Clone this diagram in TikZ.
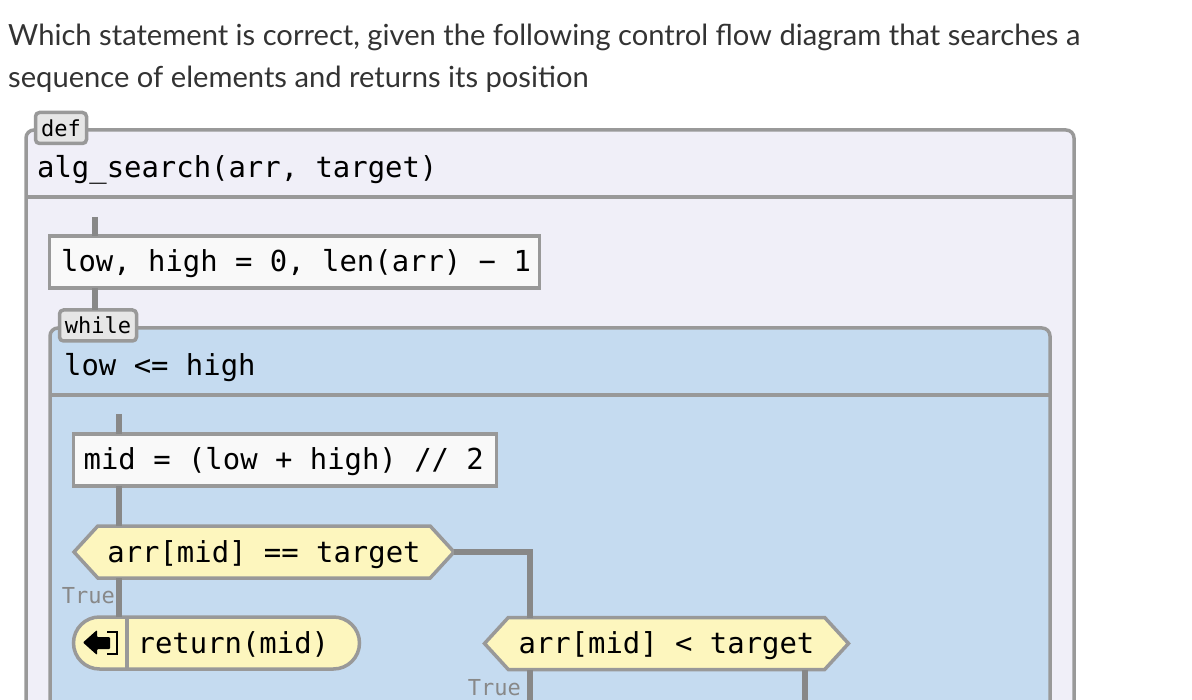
\documentclass[tikz,border=0pt]{standalone}
\usepackage{fontspec}
\setmainfont{Lato}
\setmonofont{DejaVu Sans Mono}
\usetikzlibrary{shapes.symbols}

\definecolor{defback}{HTML}{F0EFF8}
\definecolor{whileback}{HTML}{C5DBF0}
\definecolor{condback}{HTML}{FDF6BE}
\definecolor{tagback}{HTML}{E6E6E6}
\definecolor{boxback}{HTML}{F9F9F9}
\definecolor{frameline}{HTML}{999999}
\definecolor{flowline}{HTML}{888888}
\definecolor{labelgray}{HTML}{888888}
\definecolor{introtext}{HTML}{333333}

\tikzset{
  framepath/.style={draw=frameline, line width=3.5pt},
  flow/.style={draw=flowline, line width=5.5pt},
  code/.style={font=\ttfamily\fontsize{28.9}{30}\selectfont, text=black, inner sep=0pt},
  tag/.style={draw=frameline, line width=3.5pt, fill=tagback, rounded corners=4pt, inner sep=0pt, outer sep=0pt,
    font=\ttfamily\fontsize{22}{24}\selectfont, text=black},
  stmt/.style={draw=frameline, line width=3.5pt, fill=boxback, inner sep=0pt, outer sep=0pt, minimum height=52pt},
  cond/.style={code, signal, signal to=west and east, signal pointer angle=95,
    draw=frameline, line width=3.5pt, fill=condback, outer sep=0pt, minimum height=52pt,
    text height=24pt, text depth=4pt},
  branch/.style={font=\ttfamily\fontsize{22}{24}\selectfont, text=labelgray, inner sep=0pt},
}

\begin{document}
\begin{tikzpicture}[x=1pt, y=-1pt]
  \useasboundingbox (0,0) rectangle (1192,700);
  \clip (0,0) rectangle (1192,700);

  % Pregunta
  \node[anchor=west, inner sep=0pt, text=introtext, font=\fontsize{29.15}{30}\selectfont] (introa) at (8,37)
    {Which statement is correct, given the following control flow diagram that searches a};
  \node[anchor=west, inner sep=0pt, text=introtext, font=\fontsize{29.15}{30}\selectfont] (introb) at (8,79)
    {sequence of elements and returns its position};

  % Marcos
  \draw[framepath, fill=defback, rounded corners=8pt] (26,760) rectangle (1074,130);
  \draw[framepath] (26,197) -- (1074,197);
  \draw[framepath, fill=whileback, rounded corners=8pt] (50,760) rectangle (1050,328);
  \draw[framepath] (50,395) -- (1050,395);

  \node[tag, minimum width=51pt, minimum height=31pt] (deftag) at (61,128) {def};
  \node[tag, minimum width=77pt, minimum height=31pt] (whiletag) at (98,325.5) {while};
  \node[code, anchor=base west] (defname) at (37,178) {alg\_search(arr, target)};
  \node[code, anchor=base west] (whilename) at (64,376) {low <= high};

  % Bloques
  \node[stmt, minimum width=490pt] (lowbox) at (294.5,262) {};
  \node[code, anchor=base west] (lowtext) at (61,272) {low, high = 0, len(arr) − 1};
  \node[stmt, minimum width=423pt] (midbox) at (285,460) {};
  \node[code, anchor=base west] (midtext) at (83.5,470) {mid = (low + high) // 2};
  \node[cond, minimum width=380pt] (eqcond) at (264,552) {arr[mid] == target};
  \node[cond, minimum width=364pt] (ltcond) at (666.5,643.5) {arr[mid] < target};

  % Retorno
  \node[draw=frameline, line width=3.5pt, fill=condback, rounded corners=26pt, inner sep=0pt, outer sep=0pt,
    minimum width=286pt, minimum height=52pt] (retbox) at (216.5,643) {};
  \draw[framepath] (127,617) -- (127,669);
  \node[code, anchor=base west] (rettext) at (137.5,653) {return(mid)};
  \fill[rounded corners=1pt] (83,642.5) -- (97,630) -- (97,637) -- (110,637) -- (110,649) -- (97,649) -- (97,655) -- cycle;
  \draw[line width=2pt] (107,632) -- (117,632) -- (117,654) -- (107,654);

  % Conectores
  \coordinate (defentry) at (95,217);
  \coordinate (whileentry) at (119,414);
  \coordinate (ltentry) at (530,552);
  \coordinate (ltfalse) at (805,710);
  \coordinate (lttrue) at (530,710);
  \draw[flow] (defentry) -- (defentry |- lowbox.north);
  \draw[flow] (defentry |- lowbox.south) -- (defentry |- whiletag.north);
  \draw[flow] (whileentry) -- (whileentry |- midbox.north);
  \draw[flow] (whileentry |- midbox.south) -- (whileentry |- eqcond.north);
  \draw[flow] (whileentry |- eqcond.south) -- (whileentry |- retbox.north);
  \draw[flow] (eqcond.east) -- (ltentry) -- (ltentry |- ltcond.north);
  \draw[flow] (lttrue |- ltcond.south) -- (lttrue);
  \draw[flow] (ltfalse |- ltcond.south) -- (ltfalse);

  \node[branch, anchor=east] (eqtrue) at (115,596) {True};
  \node[branch, anchor=east] (lttruelabel) at (521,688) {True};
\end{tikzpicture}
\end{document}
